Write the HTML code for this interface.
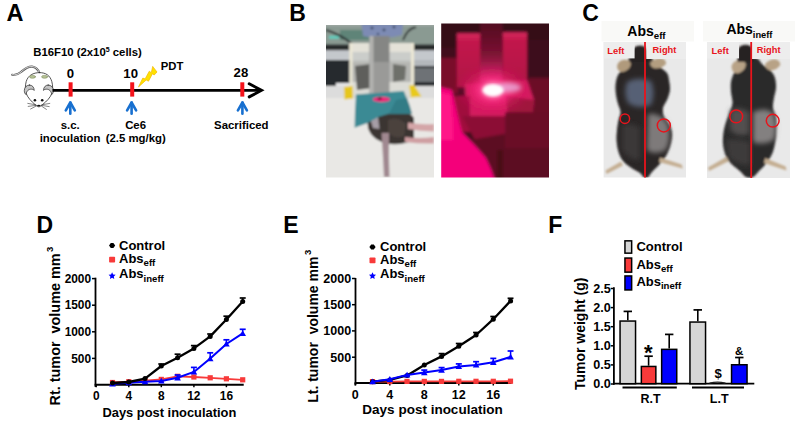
<!DOCTYPE html><html><head><meta charset="utf-8"><style>html,body{margin:0;padding:0;background:#fff;}svg{display:block;font-family:"Liberation Sans",sans-serif;font-weight:bold;}</style></head><body>
<svg width="798" height="422" viewBox="0 0 798 422">
<rect width="798" height="422" fill="#fff"/>
<text x="6.6" y="21.0" font-size="23.5" text-anchor="start" fill="#000" font-weight="bold" >A</text>
<text x="33.2" y="55.6" font-size="11.35">B16F10 (2x10<tspan font-size="7" dy="-4">5</tspan><tspan dy="4"> cells)</tspan></text>
<g stroke-linecap="round" stroke-linejoin="round">
      <path d="M39.6,73.3 C38,69 36,67 32,66.6 C27,66.3 24,69.5 21,72 C18.5,74 15.5,75.5 12.1,74.8" fill="none" stroke="#5a5a5a" stroke-width="2.1"/>
      <path d="M39.6,73.3 C38,69 36,67 32,66.6 C27,66.3 24,69.5 21,72 C18.5,74 15.5,75.5 12.1,74.8" fill="none" stroke="#f4f4f4" stroke-width="0.8"/>
      <path d="M39.6,72.6 C33,72.6 28,75.5 26.2,81.5 C25,86 25.3,90 26,93 C27.5,97.5 31.5,101.5 35,104.5 C37,106.3 38,106.8 38.8,106.8 C39.6,106.8 40.6,106.3 42.6,104.5 C46.5,101.5 50.5,97.5 52,93 C52.8,90 53,86 51.8,81.5 C50,75.5 46,72.6 39.6,72.6 Z" fill="#fff" stroke="#2a2a2a" stroke-width="0.8"/>
      <ellipse cx="32.5" cy="76.8" rx="3" ry="1.5" fill="#b4c094" stroke="#7c8a5a" stroke-width="0.5"/>
      <ellipse cx="44.6" cy="76.8" rx="3" ry="1.5" fill="#b4c094" stroke="#7c8a5a" stroke-width="0.5"/>
      <path d="M29.5,85 C26.5,85 24.3,87.5 24.3,90.6 C24.3,92.5 25,93.8 26,94.6 C26.5,91 28.5,89 31.5,89.2 C33,89.3 33.8,89.8 34.2,90.4 C34.2,87.5 32.5,85 29.5,85 Z" fill="#c4c4c4" stroke="#2a2a2a" stroke-width="0.7"/>
      <path d="M48.2,85 C51.2,85 53.4,87.5 53.4,90.6 C53.4,92.5 52.7,93.8 51.7,94.6 C51.2,91 49.2,89 46.2,89.2 C44.7,89.3 43.9,89.8 43.5,90.4 C43.5,87.5 45.2,85 48.2,85 Z" fill="#c4c4c4" stroke="#2a2a2a" stroke-width="0.7"/>
      <circle cx="34.9" cy="100.2" r="1.3" fill="#111"/>
      <circle cx="42.2" cy="100.2" r="1.3" fill="#111"/>
      <path d="M36.8,105.2 Q38.8,107.6 40.8,105.2 Q38.8,104.2 36.8,105.2 Z" fill="#111"/>
      <path d="M35.8,104.8 L27.8,103.4 M35.8,105.4 L28.2,106.4 M36.2,106 L30.6,109 M41.8,104.8 L49.8,103.4 M41.8,105.4 L49.2,106.6 M41.4,106 L46.4,109.4" stroke="#333" stroke-width="0.6" fill="none"/>
    </g>
<line x1="52.5" y1="90.35" x2="261" y2="90.35" stroke="#000" stroke-width="2.9"/>
<polyline points="249.2,83.8 261.5,90.35 249.2,96.9" fill="none" stroke="#000" stroke-width="2.9" stroke-linejoin="miter" stroke-linecap="round"/>
<rect x="68.6" y="82.3" width="4" height="14.3" fill="#f4121a"/>
<rect x="130.2" y="82.3" width="4" height="14.3" fill="#f4121a"/>
<rect x="240.3" y="82.3" width="4" height="14.3" fill="#f4121a"/>
<text x="70.5" y="78.2" font-size="13.2" text-anchor="middle" fill="#000" font-weight="bold" >0</text>
<text x="130.7" y="78.0" font-size="13.2" text-anchor="middle" fill="#000" font-weight="bold" >10</text>
<text x="240.9" y="77.1" font-size="13.2" text-anchor="middle" fill="#000" font-weight="bold" >28</text>
<g stroke="#1870d0" stroke-width="2.6" fill="none" stroke-linecap="round" stroke-linejoin="round"><line x1="70.3" y1="102.5" x2="70.3" y2="113.7"/><polyline points="65.8,110.3 70.3,102.5 74.8,110.3"/></g>
<g stroke="#1870d0" stroke-width="2.6" fill="none" stroke-linecap="round" stroke-linejoin="round"><line x1="131.6" y1="102.5" x2="131.6" y2="113.7"/><polyline points="127.1,110.3 131.6,102.5 136.1,110.3"/></g>
<g stroke="#1870d0" stroke-width="2.6" fill="none" stroke-linecap="round" stroke-linejoin="round"><line x1="242.4" y1="102.5" x2="242.4" y2="113.7"/><polyline points="237.9,110.3 242.4,102.5 246.9,110.3"/></g>
<text x="70.2" y="128.6" font-size="11.4" text-anchor="middle" fill="#000" font-weight="bold" >s.c.</text>
<text x="70.0" y="141.5" font-size="11.4" text-anchor="middle" fill="#000" font-weight="bold" >inoculation</text>
<text x="135.6" y="128.9" font-size="11.4" text-anchor="middle" fill="#000" font-weight="bold" >Ce6</text>
<text x="135.7" y="141.8" font-size="11.4" text-anchor="middle" fill="#000" font-weight="bold" >(2.5 mg/kg)</text>
<text x="160.7" y="69.8" font-size="11.3" text-anchor="start" fill="#000" font-weight="bold" >PDT</text>
<text x="241.3" y="129.2" font-size="11.4" text-anchor="middle" fill="#000" font-weight="bold" >Sacrificed</text>
<path d="M138.5,86.9 L142.8,78.1 L145.1,78.9 L149.3,71.2 L151.3,72.7 L152.7,66.4 L157,72 L154.2,75 L152.4,73.8 L148.5,81.2 L146.2,80 Z" fill="#ffe100" stroke="#f2b800" stroke-width="0.7" stroke-linejoin="round"/>
<text x="289.3" y="20.9" font-size="23" text-anchor="start" fill="#000" font-weight="bold" >B</text>
<filter id="blurB1" x="-5%" y="-5%" width="110%" height="110%"><feGaussianBlur stdDeviation="0.8"/></filter>
<filter id="blurB2" x="-10%" y="-10%" width="120%" height="120%"><feGaussianBlur stdDeviation="2.2"/></filter>
<filter id="blurB3" x="-10%" y="-10%" width="120%" height="120%"><feGaussianBlur stdDeviation="1.6"/></filter>
<clipPath id="clipB1"><rect x="326" y="25" width="108" height="152.5"/></clipPath>
      <g clip-path="url(#clipB1)"><g filter="url(#blurB1)">
        <rect x="320" y="20" width="120" height="165" fill="#e9e8e5"/>
        <rect x="320" y="20" width="120" height="26" fill="#8a9a92"/><rect x="320" y="20" width="120" height="6" fill="#a0aaa6"/><rect x="340" y="30" width="30" height="10" fill="#5e8478"/>
        <rect x="329" y="35.8" width="10" height="3" fill="#60ccbc"/>
        <path d="M326,30 Q340,34 352,44" stroke="#2c3032" stroke-width="2" fill="none"/>
        <path d="M403,40 Q408,28 416,27" stroke="#2c3032" stroke-width="1.8" fill="none"/>
        <rect x="320" y="44.5" width="120" height="6" fill="#25292c"/>
        <rect x="320" y="50.5" width="120" height="9.5" fill="#c4c8cc"/>
        <rect x="320" y="60" width="120" height="27" fill="#26292d"/><rect x="336" y="83" width="14" height="5" fill="#e6e6e8"/>
        <rect x="414" y="60" width="26" height="6" fill="#b4b8bc"/>
        <rect x="414" y="68" width="26" height="14" fill="#6e7276"/>
        <rect x="320" y="86" width="120" height="12" fill="#dcdcdc"/>
        <rect x="349.5" y="43" width="64.5" height="55" fill="#d6d6d0" opacity="0.82"/>
        <rect x="349.5" y="43" width="64.5" height="9" fill="#e4e2d8"/>
        <rect x="352" y="52" width="59" height="10" fill="#c8cac8" opacity="0.7"/><rect x="352" y="82" width="59" height="14" fill="#dcdcd6"/>
        <path d="M355,66 L371,64 L372,88 L357,90 Z" fill="#5e5f5c"/>
        <path d="M393,64 L406,66 L405,80 L393,82 Z" fill="#6e6f6b"/>
        <rect x="349.5" y="43" width="3" height="55" fill="#ece8d6"/>
        <rect x="411" y="43" width="3" height="55" fill="#ece8d6"/>
        <path d="M344,87 L352.5,86 L353,98.5 L344.5,99.5 Z" fill="#e6c412" opacity="0.95"/>
        <path d="M409,85.5 L414,85 L421.5,96.5 L411,97.5 Z" fill="#e8c810" opacity="0.95"/>
        <path d="M361.5,24 L403,24 L402,35 Q383,41 363,36 Z" fill="#7d8bb4"/>
        <circle cx="372" cy="28" r="1.3" fill="#2a3050"/><circle cx="384" cy="30" r="1.3" fill="#2a3050"/><circle cx="394" cy="27" r="1.3" fill="#2a3050"/><circle cx="378" cy="34" r="1.1" fill="#2a3050"/>
        <rect x="369.5" y="36" width="20" height="27" fill="#858684"/>
        <rect x="369.5" y="62" width="20" height="36" fill="#9a9a98"/>
        <rect x="369.5" y="36" width="4" height="62" fill="#b2b2b0"/>
        <path d="M367,114 Q376,110 392,111 Q410,110 414,118 L414,140 Q404,145 390,144 Q372,141 368,128 Z" fill="#3b3432"/>
        <path d="M388,120 Q398,116 406,124 L404,136 Q394,140 388,132 Z" fill="#4c423e"/>
        <path d="M370,118 L378,116.5 L379.5,129 L373,128 Z" fill="#a69ea6"/>
        <path d="M381.5,133 Q383,156 384,177 L389.5,177 Q388.5,156 389,133 Z" fill="#a08890"/>
        <path d="M408,122.5 Q420,125 434,124 L434,131.5 Q420,131 408,129 Z" fill="#d4a6a8"/>
        <path d="M405,137 Q420,139 434,137 L434,143.5 Q420,144 405,142 Z" fill="#cf9fa2"/>
        <path d="M356,94.6 L403.8,90.9 L409.7,105.6 L411.9,113.7 L389,113.7 L378.8,116.7 L367,123.3 L354.6,127.7 L355,111 Z" fill="#3a8a94"/>
        <path d="M396,100 L407,98 L411.9,113.7 L389,113.7 Z" fill="#337c86"/>
        <ellipse cx="381.5" cy="99.4" rx="8.6" ry="2.7" fill="#f0287a"/>
        <ellipse cx="379.8" cy="98.6" rx="2.3" ry="1.1" fill="#4a1020"/>
      </g></g>
<clipPath id="clipB2"><rect x="441.2" y="23.4" width="107.8" height="154"/></clipPath>
      <radialGradient id="glow" cx="493" cy="90" r="38" gradientUnits="userSpaceOnUse" gradientTransform="translate(0,27) scale(1,0.7)">
        <stop offset="0" stop-color="#ffffff"/><stop offset="0.15" stop-color="#ffc0e0"/><stop offset="0.35" stop-color="#ff3088" stop-opacity="0.85"/><stop offset="0.7" stop-color="#e8186a" stop-opacity="0.3"/><stop offset="1" stop-color="#d01860" stop-opacity="0"/>
      </radialGradient>
      <linearGradient id="rodg" x1="0" y1="0" x2="0" y2="1"><stop offset="0" stop-color="#4a0a1c"/><stop offset="0.55" stop-color="#7a1232"/><stop offset="1" stop-color="#e02a70"/></linearGradient>
      <linearGradient id="blkL" x1="0" y1="0" x2="0" y2="1"><stop offset="0" stop-color="#d82a5e"/><stop offset="0.15" stop-color="#c2184c"/><stop offset="1" stop-color="#b01444"/></linearGradient>
      <g clip-path="url(#clipB2)"><g filter="url(#blurB3)">
        <rect x="436" y="18" width="118" height="165" fill="#420a1c"/>
        <rect x="436" y="18" width="118" height="30" fill="#360816"/>
        <rect x="436" y="58" width="22" height="36" fill="#7a0c2c"/>
        <rect x="457" y="33.3" width="23.7" height="54" fill="url(#blkL)"/>
        <rect x="502.5" y="32.3" width="24.5" height="54" fill="url(#blkL)"/>
        <rect x="480.2" y="18" width="22.3" height="64" fill="url(#rodg)"/>
        <rect x="528" y="40" width="26" height="40" fill="#3e0a1a"/>
        <rect x="528" y="78" width="26" height="50" fill="#6c0c28"/>
        <path d="M465,84 L527,80 L534,100 L532,118 Q500,122 467,118 Z" fill="#d41c5e"/>
        <path d="M506,96 L534,100 L532,118 L508,120 Z" fill="#a0143e"/>
        <rect x="452" y="96" width="18" height="36" fill="#a00a3c"/><path d="M462,116 L530,116 L532,140 L502,150 L476,142 Z" fill="#8c0c34"/>
        <path d="M470,140 L549,126 L554,183 L470,183 Z" fill="#5c0a22"/><rect x="505" y="112" width="50" height="36" fill="#6a0c26"/>
        <path d="M497,150 L503,150 L503,183 L497,183 Z" fill="#4a0818"/>
        <path d="M436,86 L452,90 Q458,118 462,132 Q476,146 486,158 Q492,170 496,183 L436,183 Z" fill="#f4067a"/>
        <path d="M436,92 L450,95 Q453,120 453,140 L436,140 Z" fill="#ff1888"/>
      </g>
      <g filter="url(#blurB2)"><rect x="441" y="23" width="108" height="154" fill="url(#glow)"/>
        <ellipse cx="508" cy="87.5" rx="13" ry="4.5" fill="#eab0dc" opacity="0.8"/></g>
      <ellipse cx="493" cy="90.2" rx="10.5" ry="5.8" fill="#ffffff" filter="url(#blurB3)"/>
      </g>
<text x="582.2" y="20.8" font-size="23" text-anchor="start" fill="#000" font-weight="bold" >C</text>
<filter id="blurC" x="-10%" y="-10%" width="120%" height="120%"><feGaussianBlur stdDeviation="0.8"/></filter>
<filter id="blurC2" x="-30%" y="-30%" width="160%" height="160%"><feGaussianBlur stdDeviation="2.6"/></filter>
<rect x="601.5" y="21" width="92.5" height="20.5" fill="#f9f9f7"/>
<rect x="703" y="21" width="92" height="20.5" fill="#f9f9f7"/>
<text x="627.3" y="36" font-size="14">Abs<tspan font-size="9.7" dy="3">eff</tspan></text>
<text x="726.4" y="34.3" font-size="14">Abs<tspan font-size="9.3" dy="3.4">ineff</tspan></text>
<clipPath id="clipC1"><rect x="603.6" y="42" width="82.4" height="135.5"/></clipPath>
    <g clip-path="url(#clipC1)">
      <rect x="600" y="40" width="90" height="140" fill="#e9e9e9"/>
            <g filter="url(#blurC)">
                  <path d="M631,56 C627.5,57.0 629.2,60.0 628,62 C626.8,64.0 625.7,65.8 624,68 C622.3,70.2 619.4,72.2 618,75 C616.6,77.8 615.8,81.7 615.5,85 C615.2,88.3 615.6,91.8 616,95 C616.4,98.2 617.2,101.2 618,104 C618.8,106.8 620.4,109.3 620.5,112 C620.6,114.7 619.1,117.0 618.5,120 C617.9,123.0 617.3,126.7 617,130 C616.7,133.3 616.3,136.7 616.5,140 C616.7,143.3 617.2,147.0 618,150 C618.8,153.0 619.7,155.7 621,158 C622.3,160.3 624.0,162.2 626,164 C628.0,165.8 630.7,167.5 633,169 C635.3,170.5 638.2,171.6 640,173 C641.8,174.4 642.7,176.8 644,177.5 C645.3,178.2 646.7,178.4 648,177.5 C649.3,176.6 650.3,173.9 652,172 C653.7,170.1 656.0,168.2 658,166 C660.0,163.8 662.3,161.3 664,159 C665.7,156.7 666.8,154.7 668,152 C669.2,149.3 670.3,146.2 671,143 C671.7,139.8 672.3,136.2 672,133 C671.7,129.8 670.3,126.7 669,124 C667.7,121.3 665.0,119.7 664,117 C663.0,114.3 662.5,110.8 663,108 C663.5,105.2 665.8,103.0 667,100 C668.2,97.0 669.7,93.3 670,90 C670.3,86.7 669.5,82.8 669,80 C668.5,77.2 668.5,75.2 667,73 C665.5,70.8 662.2,69.0 660,67 C657.8,65.0 655.8,62.8 654,61 C652.2,59.2 652.8,56.8 649,56 C645.2,55.2 634.5,55.0 631,56 Z" fill="#2a2727"/>
      <path d="M617,66.5 Q617.5,61 624,59.8 Q629.5,59.5 631,64 Q630,70 623,72 Q617.5,72 617,66.5 Z" fill="#b09a7c"/>
      <path d="M650,63 Q654,58 661,58.3 Q666.5,59.5 666,64 Q662,68.5 655,68.5 Q650.5,67.5 650,63 Z" fill="#b39e80"/>
      <path d="M632.5,62 L632.5,51 Q633.5,45.6 640,45.4 Q646.5,45.6 647.5,51 L647.5,62 Z" fill="#262323"/>
      <path d="M621,161.5 L605.5,170.5 L606.5,174 L623,165.5 Z" fill="#c4ae92"/>
      <path d="M660,157.5 L681.6,164.5 L683,168.5 L659,162 Z" fill="#c4ae92"/>
      </g>
      <path d="M627,82 Q638,76 651,81 Q656,93 651,105 Q638,110 628,103 Q623,93 627,82 Z" fill="#566174" filter="url(#blurC2)"/>
      <path d="M648,114 Q660,112 668,124 Q672,138 666,150 Q654,156 647,150 Z" fill="#7e7a7a" filter="url(#blurC2)"/>
      <path d="M622,125 Q632,122 640,128 L640,160 Q628,160 622,150 Z" fill="#3a3838" filter="url(#blurC2)"/>
      <rect x="603.6" y="42" width="31" height="16.4" fill="#ededed"/>
      <rect x="646.3" y="42" width="39.7" height="17" fill="#ededed"/>
      <circle cx="624.9" cy="118.7" r="4.7" fill="none" stroke="#e8141c" stroke-width="1.5"/>
      <circle cx="663.8" cy="125.4" r="6.5" fill="none" stroke="#e8141c" stroke-width="1.5"/>
      <line x1="645" y1="42" x2="645" y2="178" stroke="#e8141c" stroke-width="1.8"/>
    </g>
<text x="607.2" y="53.9" font-size="9.4" text-anchor="start" fill="#e8141c" font-weight="bold" >Left</text>
<text x="652.6" y="53.4" font-size="9.3" text-anchor="start" fill="#e8141c" font-weight="bold" >Right</text>
<clipPath id="clipC2"><rect x="707" y="42" width="83" height="136"/></clipPath>
    <g clip-path="url(#clipC2)">
      <rect x="700" y="40" width="95" height="140" fill="#e9e9e9"/>
      <g filter="url(#blurC)">
                  <path d="M740,58 C737.0,59.3 739.0,63.5 738,66 C737.0,68.5 735.2,70.3 734,73 C732.8,75.7 731.5,78.8 731,82 C730.5,85.2 730.8,88.5 731,92 C731.2,95.5 732.7,99.7 732.5,103 C732.3,106.3 731.1,108.8 730,112 C728.9,115.2 727.1,118.7 726,122 C724.9,125.3 724.0,128.5 723.5,132 C723.0,135.5 722.8,139.5 723,143 C723.2,146.5 724.0,150.0 725,153 C726.0,156.0 727.3,158.7 729,161 C730.7,163.3 733.0,165.2 735,167 C737.0,168.8 739.2,170.3 741,172 C742.8,173.7 744.0,176.2 746,177 C748.0,177.8 750.8,178.0 753,177 C755.2,176.0 757.0,173.0 759,171 C761.0,169.0 763.2,167.2 765,165 C766.8,162.8 768.6,160.5 770,158 C771.4,155.5 772.6,153.0 773.5,150 C774.4,147.0 775.1,143.3 775.5,140 C775.9,136.7 775.9,133.7 776,130 C776.1,126.3 776.5,121.7 776,118 C775.5,114.3 773.3,111.3 773,108 C772.7,104.7 773.5,101.3 774,98 C774.5,94.7 775.8,91.3 776,88 C776.2,84.7 775.8,80.8 775,78 C774.2,75.2 773.0,73.2 771,71 C769.0,68.8 765.5,67.2 763,65 C760.5,62.8 759.8,59.2 756,58 C752.2,56.8 743.0,56.7 740,58 Z" fill="#2b2929"/>
      <path d="M731.5,67 Q732,61.5 738.5,60 Q744.5,59.5 746,64.5 Q745,71 738,73.5 Q732,73.5 731.5,67 Z" fill="#b8a286"/>
      <path d="M765,64 Q769,59.3 775,59.3 Q780.5,60.5 780.3,65 Q777,70 770.5,70.5 Q765.5,69.5 765,64 Z" fill="#b8a286"/>
      <path d="M737.5,62 L737.5,51 Q738.5,45 745.5,44.8 Q752.5,45 753.5,51 L753.5,62 Z" fill="#262323"/>
      <path d="M727,156.5 L708,167.5 L709,171 L729,161 Z" fill="#c4ae92"/>
      <path d="M765,158 L785.7,166.5 L786.5,170.5 L764,163 Z" fill="#c4ae92"/>
      </g>
      <path d="M753,112 Q766,106 774,114 Q778,128 774,140 Q762,146 753,142 Z" fill="#838080" filter="url(#blurC2)"/>
      <path d="M730,110 Q740,106 749,112 L749,134 Q738,138 730,130 Z" fill="#52504f" filter="url(#blurC2)"/>
      <path d="M726,140 Q738,138 750,142 L750,165 Q736,166 728,156 Z" fill="#3c3a3a" filter="url(#blurC2)"/>
      <rect x="707" y="42" width="32" height="16.4" fill="#ededed"/>
      <rect x="751.5" y="42" width="38.5" height="17" fill="#ededed"/>
      <circle cx="736.2" cy="116.4" r="6.4" fill="none" stroke="#e8141c" stroke-width="1.5"/>
      <circle cx="772.7" cy="120.7" r="6.4" fill="none" stroke="#e8141c" stroke-width="1.5"/>
      <line x1="751.2" y1="42" x2="751.2" y2="178" stroke="#e8141c" stroke-width="1.8"/>
    </g>
<text x="711.6" y="53.9" font-size="9.4" text-anchor="start" fill="#e8141c" font-weight="bold" >Left</text>
<text x="756.8" y="53.4" font-size="9.3" text-anchor="start" fill="#e8141c" font-weight="bold" >Right</text>
<text x="36.6" y="233.4" font-size="23" text-anchor="start" fill="#000" font-weight="bold" >D</text>
<line x1="95.5" y1="277.7" x2="95.5" y2="387.0" stroke="#000" stroke-width="1.8"/>
<line x1="94.6" y1="384.8" x2="243.72000000000003" y2="384.8" stroke="#000" stroke-width="2"/>
<line x1="92.0" y1="358.4" x2="95.5" y2="358.4" stroke="#000" stroke-width="1.5"/>
<text x="91.1" y="362.6602" font-size="11.9" text-anchor="end" fill="#000" font-weight="bold" >500</text>
<line x1="92.0" y1="331.8" x2="95.5" y2="331.8" stroke="#000" stroke-width="1.5"/>
<text x="91.1" y="336.0602" font-size="11.9" text-anchor="end" fill="#000" font-weight="bold" >1000</text>
<line x1="92.0" y1="305.2" x2="95.5" y2="305.2" stroke="#000" stroke-width="1.5"/>
<text x="91.1" y="309.4602" font-size="11.9" text-anchor="end" fill="#000" font-weight="bold" >1500</text>
<line x1="92.0" y1="278.6" x2="95.5" y2="278.6" stroke="#000" stroke-width="1.5"/>
<text x="91.1" y="282.8602" font-size="11.9" text-anchor="end" fill="#000" font-weight="bold" >2000</text>
<line x1="96.2" y1="384.8" x2="96.2" y2="387.2" stroke="#000" stroke-width="1.5"/>
<text x="96.2" y="399.7" font-size="11.9" text-anchor="middle" fill="#000" font-weight="bold" >0</text>
<line x1="128.8" y1="384.8" x2="128.8" y2="387.2" stroke="#000" stroke-width="1.5"/>
<text x="128.76" y="399.7" font-size="11.9" text-anchor="middle" fill="#000" font-weight="bold" >4</text>
<line x1="161.3" y1="384.8" x2="161.3" y2="387.2" stroke="#000" stroke-width="1.5"/>
<text x="161.32" y="399.7" font-size="11.9" text-anchor="middle" fill="#000" font-weight="bold" >8</text>
<line x1="193.9" y1="384.8" x2="193.9" y2="387.2" stroke="#000" stroke-width="1.5"/>
<text x="193.88" y="399.7" font-size="11.9" text-anchor="middle" fill="#000" font-weight="bold" >12</text>
<line x1="226.4" y1="384.8" x2="226.4" y2="387.2" stroke="#000" stroke-width="1.5"/>
<text x="226.44" y="399.7" font-size="11.9" text-anchor="middle" fill="#000" font-weight="bold" >16</text>
<text x="169.4" y="416.6" font-size="12.9" text-anchor="middle" fill="#000" font-weight="bold" >Days post inoculation</text>
<text transform="translate(60.3,405.4) rotate(-90)" font-size="14.4">Rt. tumor&#160; volume mm<tspan font-size="9.6" dy="-7" dx="1.5">3</tspan></text>
<polyline points="112.5,382.5 128.8,381.7 145.0,380.6 161.3,379.4 177.6,376.3 193.9,377.0 210.2,377.8 226.4,378.8 242.7,379.8" fill="none" stroke="#f83a3a" stroke-width="1.8" stroke-linejoin="round"/>
<rect x="109.9" y="379.9" width="5.2" height="5.2" fill="#f83a3a"/>
<rect x="126.2" y="379.1" width="5.2" height="5.2" fill="#f83a3a"/>
<rect x="142.4" y="378.0" width="5.2" height="5.2" fill="#f83a3a"/>
<rect x="158.7" y="376.8" width="5.2" height="5.2" fill="#f83a3a"/>
<rect x="175.0" y="373.7" width="5.2" height="5.2" fill="#f83a3a"/>
<rect x="191.3" y="374.4" width="5.2" height="5.2" fill="#f83a3a"/>
<rect x="207.6" y="375.2" width="5.2" height="5.2" fill="#f83a3a"/>
<rect x="223.8" y="376.2" width="5.2" height="5.2" fill="#f83a3a"/>
<rect x="240.1" y="377.2" width="5.2" height="5.2" fill="#f83a3a"/>
<polyline points="112.5,383.8 128.8,382.7 145.0,381.7 161.3,381.0 177.6,377.8 193.9,371.9 210.2,358.6 226.4,344.0 242.7,333.4" fill="none" stroke="#0000ff" stroke-width="2.0" stroke-linejoin="round"/>
<polygon points="112.5,380.6 115.8,386.4 109.2,386.4" fill="#0000ff"/>
<polygon points="128.8,379.5 132.1,385.3 125.5,385.3" fill="#0000ff"/>
<polygon points="145.0,378.5 148.3,384.3 141.7,384.3" fill="#0000ff"/>
<polygon points="161.3,377.8 164.6,383.6 158.0,383.6" fill="#0000ff"/>
<polygon points="177.6,374.6 180.9,380.4 174.3,380.4" fill="#0000ff"/>
<line x1="177.6" y1="375.0" x2="177.6" y2="377.8" stroke="#0000ff" stroke-width="1.5"/>
<line x1="174.6" y1="375.0" x2="180.6" y2="375.0" stroke="#0000ff" stroke-width="1.7"/>
<polygon points="193.9,368.7 197.2,374.5 190.6,374.5" fill="#0000ff"/>
<line x1="193.9" y1="367.4" x2="193.9" y2="371.9" stroke="#0000ff" stroke-width="1.5"/>
<line x1="190.9" y1="367.4" x2="196.9" y2="367.4" stroke="#0000ff" stroke-width="1.7"/>
<polygon points="210.2,355.4 213.5,361.2 206.9,361.2" fill="#0000ff"/>
<line x1="210.2" y1="352.8" x2="210.2" y2="358.6" stroke="#0000ff" stroke-width="1.5"/>
<line x1="207.2" y1="352.8" x2="213.2" y2="352.8" stroke="#0000ff" stroke-width="1.7"/>
<polygon points="226.4,340.8 229.7,346.6 223.1,346.6" fill="#0000ff"/>
<line x1="226.4" y1="339.8" x2="226.4" y2="344.0" stroke="#0000ff" stroke-width="1.5"/>
<line x1="223.4" y1="339.8" x2="229.4" y2="339.8" stroke="#0000ff" stroke-width="1.7"/>
<polygon points="242.7,330.2 246.0,336.0 239.4,336.0" fill="#0000ff"/>
<line x1="242.7" y1="329.3" x2="242.7" y2="333.4" stroke="#0000ff" stroke-width="1.5"/>
<line x1="239.7" y1="329.3" x2="245.7" y2="329.3" stroke="#0000ff" stroke-width="1.7"/>
<polyline points="112.5,383.0 128.8,382.0 145.0,378.6 161.3,366.0 177.6,357.7 193.9,348.4 210.2,336.4 226.4,319.5 242.7,301.6" fill="none" stroke="#000000" stroke-width="2.3" stroke-linejoin="round"/>
<circle cx="112.5" cy="383.0" r="2.5" fill="#000000"/>
<circle cx="128.8" cy="382.0" r="2.5" fill="#000000"/>
<circle cx="145.0" cy="378.6" r="2.5" fill="#000000"/>
<circle cx="161.3" cy="366.0" r="2.5" fill="#000000"/>
<line x1="161.3" y1="364.0" x2="161.3" y2="366.0" stroke="#000000" stroke-width="1.5"/>
<line x1="158.3" y1="364.0" x2="164.3" y2="364.0" stroke="#000000" stroke-width="1.7"/>
<circle cx="177.6" cy="357.7" r="2.5" fill="#000000"/>
<line x1="177.6" y1="354.2" x2="177.6" y2="357.7" stroke="#000000" stroke-width="1.5"/>
<line x1="174.6" y1="354.2" x2="180.6" y2="354.2" stroke="#000000" stroke-width="1.7"/>
<circle cx="193.9" cy="348.4" r="2.5" fill="#000000"/>
<line x1="193.9" y1="345.6" x2="193.9" y2="348.4" stroke="#000000" stroke-width="1.5"/>
<line x1="190.9" y1="345.6" x2="196.9" y2="345.6" stroke="#000000" stroke-width="1.7"/>
<circle cx="210.2" cy="336.4" r="2.5" fill="#000000"/>
<line x1="210.2" y1="334.0" x2="210.2" y2="336.4" stroke="#000000" stroke-width="1.5"/>
<line x1="207.2" y1="334.0" x2="213.2" y2="334.0" stroke="#000000" stroke-width="1.7"/>
<circle cx="226.4" cy="319.5" r="2.5" fill="#000000"/>
<line x1="226.4" y1="316.2" x2="226.4" y2="319.5" stroke="#000000" stroke-width="1.5"/>
<line x1="223.4" y1="316.2" x2="229.4" y2="316.2" stroke="#000000" stroke-width="1.7"/>
<circle cx="242.7" cy="301.6" r="2.5" fill="#000000"/>
<line x1="242.7" y1="298.0" x2="242.7" y2="301.6" stroke="#000000" stroke-width="1.5"/>
<line x1="239.7" y1="298.0" x2="245.7" y2="298.0" stroke="#000000" stroke-width="1.7"/>
<polygon points="109.0,245.5 110.8,243.0 113.4,243.0 115.2,245.5 113.4,248.0 110.8,248.0" fill="#000"/>
<text x="119.0" y="250.0" font-size="13">Control</text>
<rect x="109.1" y="256.8" width="6" height="5.8" rx="0.8" fill="#f83a3a"/>
<text x="119.0" y="262.6" font-size="13">Abs<tspan font-size="9.6" dy="3.5">eff</tspan></text>
<polygon points="112.10,272.30 113.16,274.54 115.62,274.86 113.81,276.56 114.27,278.99 112.10,277.80 109.93,278.99 110.39,276.56 108.58,274.86 111.04,274.54" fill="#0000ff"/>
<text x="119.0" y="278.0" font-size="13">Abs<tspan font-size="9.6" dy="3.5">ineff</tspan></text>
<text x="283.2" y="233.4" font-size="23" text-anchor="start" fill="#000" font-weight="bold" >E</text>
<line x1="355.5" y1="278.0" x2="355.5" y2="385.3" stroke="#000" stroke-width="1.8"/>
<line x1="354.6" y1="383.1" x2="511.55" y2="383.1" stroke="#000" stroke-width="2"/>
<line x1="352.0" y1="357.2" x2="355.5" y2="357.2" stroke="#000" stroke-width="1.5"/>
<text x="351.1" y="361.65" font-size="12.5" text-anchor="end" fill="#000" font-weight="bold" >500</text>
<line x1="352.0" y1="330.9" x2="355.5" y2="330.9" stroke="#000" stroke-width="1.5"/>
<text x="351.1" y="335.425" font-size="12.5" text-anchor="end" fill="#000" font-weight="bold" >1000</text>
<line x1="352.0" y1="304.7" x2="355.5" y2="304.7" stroke="#000" stroke-width="1.5"/>
<text x="351.1" y="309.2" font-size="12.5" text-anchor="end" fill="#000" font-weight="bold" >1500</text>
<line x1="352.0" y1="278.5" x2="355.5" y2="278.5" stroke="#000" stroke-width="1.5"/>
<text x="351.1" y="282.975" font-size="12.5" text-anchor="end" fill="#000" font-weight="bold" >2000</text>
<line x1="355.3" y1="383.1" x2="355.3" y2="385.5" stroke="#000" stroke-width="1.5"/>
<text x="355.3" y="398.8" font-size="12.5" text-anchor="middle" fill="#000" font-weight="bold" >0</text>
<line x1="389.8" y1="383.1" x2="389.8" y2="385.5" stroke="#000" stroke-width="1.5"/>
<text x="389.8" y="398.8" font-size="12.5" text-anchor="middle" fill="#000" font-weight="bold" >4</text>
<line x1="424.3" y1="383.1" x2="424.3" y2="385.5" stroke="#000" stroke-width="1.5"/>
<text x="424.3" y="398.8" font-size="12.5" text-anchor="middle" fill="#000" font-weight="bold" >8</text>
<line x1="458.8" y1="383.1" x2="458.8" y2="385.5" stroke="#000" stroke-width="1.5"/>
<text x="458.8" y="398.8" font-size="12.5" text-anchor="middle" fill="#000" font-weight="bold" >12</text>
<line x1="493.3" y1="383.1" x2="493.3" y2="385.5" stroke="#000" stroke-width="1.5"/>
<text x="493.3" y="398.8" font-size="12.5" text-anchor="middle" fill="#000" font-weight="bold" >16</text>
<text x="432.5" y="414.0" font-size="13.5" text-anchor="middle" fill="#000" font-weight="bold" >Days post inoculation</text>
<text transform="translate(318.3,402.8) rotate(-90)" font-size="14.0">Lt. tumor&#160; volume mm<tspan font-size="9.6" dy="-7" dx="1.5">3</tspan></text>
<polyline points="372.6,381.6 389.8,381.6 407.1,381.4 424.3,381.4 441.6,381.4 458.8,381.3 476.1,381.3 493.3,381.3 510.6,381.2" fill="none" stroke="#f83a3a" stroke-width="1.8" stroke-linejoin="round"/>
<rect x="369.9" y="379.0" width="5.2" height="5.2" fill="#f83a3a"/>
<rect x="387.2" y="379.0" width="5.2" height="5.2" fill="#f83a3a"/>
<rect x="404.4" y="378.8" width="5.2" height="5.2" fill="#f83a3a"/>
<rect x="421.7" y="378.8" width="5.2" height="5.2" fill="#f83a3a"/>
<rect x="438.9" y="378.8" width="5.2" height="5.2" fill="#f83a3a"/>
<rect x="456.2" y="378.7" width="5.2" height="5.2" fill="#f83a3a"/>
<rect x="473.4" y="378.7" width="5.2" height="5.2" fill="#f83a3a"/>
<rect x="490.7" y="378.7" width="5.2" height="5.2" fill="#f83a3a"/>
<rect x="507.9" y="378.6" width="5.2" height="5.2" fill="#f83a3a"/>
<polyline points="372.6,381.7 389.8,379.9 407.1,375.4 424.3,365.0 441.6,356.4 458.8,346.2 476.1,335.0 493.3,319.2 510.6,300.9" fill="none" stroke="#000000" stroke-width="2.3" stroke-linejoin="round"/>
<circle cx="372.6" cy="381.7" r="2.5" fill="#000000"/>
<circle cx="389.8" cy="379.9" r="2.5" fill="#000000"/>
<circle cx="407.1" cy="375.4" r="2.5" fill="#000000"/>
<circle cx="424.3" cy="365.0" r="2.5" fill="#000000"/>
<circle cx="441.6" cy="356.4" r="2.5" fill="#000000"/>
<line x1="441.6" y1="353.6" x2="441.6" y2="356.4" stroke="#000000" stroke-width="1.5"/>
<line x1="438.6" y1="353.6" x2="444.6" y2="353.6" stroke="#000000" stroke-width="1.7"/>
<circle cx="458.8" cy="346.2" r="2.5" fill="#000000"/>
<line x1="458.8" y1="343.5" x2="458.8" y2="346.2" stroke="#000000" stroke-width="1.5"/>
<line x1="455.8" y1="343.5" x2="461.8" y2="343.5" stroke="#000000" stroke-width="1.7"/>
<circle cx="476.1" cy="335.0" r="2.5" fill="#000000"/>
<line x1="476.1" y1="332.5" x2="476.1" y2="335.0" stroke="#000000" stroke-width="1.5"/>
<line x1="473.1" y1="332.5" x2="479.1" y2="332.5" stroke="#000000" stroke-width="1.7"/>
<circle cx="493.3" cy="319.2" r="2.5" fill="#000000"/>
<line x1="493.3" y1="316.5" x2="493.3" y2="319.2" stroke="#000000" stroke-width="1.5"/>
<line x1="490.3" y1="316.5" x2="496.3" y2="316.5" stroke="#000000" stroke-width="1.7"/>
<circle cx="510.6" cy="300.9" r="2.5" fill="#000000"/>
<line x1="510.6" y1="298.3" x2="510.6" y2="300.9" stroke="#000000" stroke-width="1.5"/>
<line x1="507.6" y1="298.3" x2="513.5" y2="298.3" stroke="#000000" stroke-width="1.7"/>
<polyline points="372.6,381.7 389.8,379.3 407.1,374.9 424.3,372.6 441.6,370.1 458.8,366.4 476.1,365.0 493.3,362.3 510.6,356.9" fill="none" stroke="#0000ff" stroke-width="2.0" stroke-linejoin="round"/>
<polygon points="372.6,378.5 375.9,384.3 369.2,384.3" fill="#0000ff"/>
<polygon points="389.8,376.1 393.1,381.9 386.5,381.9" fill="#0000ff"/>
<polygon points="407.1,371.7 410.4,377.5 403.8,377.5" fill="#0000ff"/>
<polygon points="424.3,369.4 427.6,375.2 421.0,375.2" fill="#0000ff"/>
<line x1="424.3" y1="370.1" x2="424.3" y2="372.6" stroke="#0000ff" stroke-width="1.5"/>
<line x1="421.3" y1="370.1" x2="427.3" y2="370.1" stroke="#0000ff" stroke-width="1.7"/>
<polygon points="441.6,366.9 444.9,372.7 438.2,372.7" fill="#0000ff"/>
<line x1="441.6" y1="367.6" x2="441.6" y2="370.1" stroke="#0000ff" stroke-width="1.5"/>
<line x1="438.6" y1="367.6" x2="444.6" y2="367.6" stroke="#0000ff" stroke-width="1.7"/>
<polygon points="458.8,363.2 462.1,369.0 455.5,369.0" fill="#0000ff"/>
<line x1="458.8" y1="363.9" x2="458.8" y2="366.4" stroke="#0000ff" stroke-width="1.5"/>
<line x1="455.8" y1="363.9" x2="461.8" y2="363.9" stroke="#0000ff" stroke-width="1.7"/>
<polygon points="476.1,361.8 479.4,367.6 472.8,367.6" fill="#0000ff"/>
<line x1="476.1" y1="361.7" x2="476.1" y2="365.0" stroke="#0000ff" stroke-width="1.5"/>
<line x1="473.1" y1="361.7" x2="479.1" y2="361.7" stroke="#0000ff" stroke-width="1.7"/>
<polygon points="493.3,359.1 496.6,364.9 490.0,364.9" fill="#0000ff"/>
<line x1="493.3" y1="358.4" x2="493.3" y2="362.3" stroke="#0000ff" stroke-width="1.5"/>
<line x1="490.3" y1="358.4" x2="496.3" y2="358.4" stroke="#0000ff" stroke-width="1.7"/>
<polygon points="510.6,353.7 513.9,359.5 507.2,359.5" fill="#0000ff"/>
<line x1="510.6" y1="351.0" x2="510.6" y2="356.9" stroke="#0000ff" stroke-width="1.5"/>
<line x1="507.6" y1="351.0" x2="513.5" y2="351.0" stroke="#0000ff" stroke-width="1.7"/>
<polygon points="369.4,246.9 371.2,244.4 373.8,244.4 375.6,246.9 373.8,249.4 371.2,249.4" fill="#000"/>
<text x="380.0" y="251.2" font-size="13">Control</text>
<rect x="369.5" y="257.4" width="6" height="5.8" rx="0.8" fill="#f83a3a"/>
<text x="380.0" y="263.8" font-size="13">Abs<tspan font-size="9.6" dy="3.5">eff</tspan></text>
<polygon points="372.50,272.30 373.56,274.54 376.02,274.86 374.21,276.56 374.67,278.99 372.50,277.80 370.33,278.99 370.79,276.56 368.98,274.86 371.44,274.54" fill="#0000ff"/>
<text x="380.0" y="278.0" font-size="13">Abs<tspan font-size="9.6" dy="3.5">ineff</tspan></text>
<text x="548.3" y="233.4" font-size="23" text-anchor="start" fill="#000" font-weight="bold" >F</text>
<line x1="613.9" y1="287.3" x2="613.9" y2="384.7" stroke="#000" stroke-width="1.8"/>
<line x1="613.0" y1="383.7" x2="754.3" y2="383.7" stroke="#000" stroke-width="1.7"/>
<line x1="610.6999999999999" y1="384.0" x2="613.9" y2="384.0" stroke="#000" stroke-width="1.5"/>
<text x="610.6999999999999" y="388.3" font-size="12.6" text-anchor="end" fill="#000" font-weight="bold" >0.0</text>
<line x1="610.6999999999999" y1="364.9" x2="613.9" y2="364.9" stroke="#000" stroke-width="1.5"/>
<text x="610.6999999999999" y="369.2" font-size="12.6" text-anchor="end" fill="#000" font-weight="bold" >0.5</text>
<line x1="610.6999999999999" y1="345.8" x2="613.9" y2="345.8" stroke="#000" stroke-width="1.5"/>
<text x="610.6999999999999" y="350.1" font-size="12.6" text-anchor="end" fill="#000" font-weight="bold" >1.0</text>
<line x1="610.6999999999999" y1="326.7" x2="613.9" y2="326.7" stroke="#000" stroke-width="1.5"/>
<text x="610.6999999999999" y="331.0" font-size="12.6" text-anchor="end" fill="#000" font-weight="bold" >1.5</text>
<line x1="610.6999999999999" y1="307.6" x2="613.9" y2="307.6" stroke="#000" stroke-width="1.5"/>
<text x="610.6999999999999" y="311.90000000000003" font-size="12.6" text-anchor="end" fill="#000" font-weight="bold" >2.0</text>
<line x1="610.6999999999999" y1="288.5" x2="613.9" y2="288.5" stroke="#000" stroke-width="1.5"/>
<text x="610.6999999999999" y="292.8" font-size="12.6" text-anchor="end" fill="#000" font-weight="bold" >2.5</text>
<text transform="translate(585.2,390.1) rotate(-90)" font-size="14">Tumor weight (g)</text>
<line x1="627.8" y1="311.1" x2="627.8" y2="320.3" stroke="#000" stroke-width="1.6"/>
<line x1="623.6" y1="311.4" x2="632.0" y2="311.4" stroke="#000" stroke-width="1.7"/>
<rect x="620.05" y="321.05" width="15.50" height="62.65" fill="#d6d6d6" stroke="#000" stroke-width="1.5"/>
<line x1="648.6" y1="355.9" x2="648.6" y2="365.7" stroke="#000" stroke-width="1.6"/>
<line x1="644.4" y1="356.2" x2="652.8" y2="356.2" stroke="#000" stroke-width="1.7"/>
<rect x="641.35" y="366.45" width="14.50" height="17.25" fill="#f83a3a" stroke="#000" stroke-width="1.5"/>
<line x1="669.2" y1="334.1" x2="669.2" y2="348.6" stroke="#000" stroke-width="1.6"/>
<line x1="665.0" y1="334.4" x2="673.4" y2="334.4" stroke="#000" stroke-width="1.7"/>
<rect x="661.65" y="349.35" width="15.10" height="34.35" fill="#0000ff" stroke="#000" stroke-width="1.5"/>
<line x1="697.8" y1="309.6" x2="697.8" y2="321.3" stroke="#000" stroke-width="1.6"/>
<line x1="693.5" y1="309.9" x2="702.0" y2="309.9" stroke="#000" stroke-width="1.7"/>
<rect x="689.95" y="322.05" width="15.60" height="61.65" fill="#d6d6d6" stroke="#000" stroke-width="1.5"/>
<line x1="739.3" y1="357.2" x2="739.3" y2="364.0" stroke="#000" stroke-width="1.6"/>
<line x1="735.1" y1="357.5" x2="743.5" y2="357.5" stroke="#000" stroke-width="1.7"/>
<rect x="731.55" y="364.75" width="15.50" height="18.95" fill="#0000ff" stroke="#000" stroke-width="1.5"/>
<path d="M709.5,383.2 Q717.5,381 725.5,383.2" fill="none" stroke="#222" stroke-width="1.2"/>
<line x1="622.5" y1="387.5" x2="676.8" y2="387.5" stroke="#000" stroke-width="2.1"/>
<line x1="692" y1="387.5" x2="744" y2="387.5" stroke="#000" stroke-width="2.1"/>
<text x="650.5" y="402.7" font-size="12.5" text-anchor="middle" fill="#000" font-weight="bold" >R.T</text>
<text x="719.2" y="402.5" font-size="12.5" text-anchor="middle" fill="#000" font-weight="bold" >L.T</text>
<text x="648.4" y="359.7" font-size="22" text-anchor="middle" fill="#000" font-weight="bold" >*</text>
<text x="718.1" y="378.4" font-size="13.2" text-anchor="middle" fill="#000" font-weight="bold" >$</text>
<text x="739.1" y="354.5" font-size="11.5" text-anchor="middle" fill="#000" font-weight="bold" >&amp;</text>
<rect x="624.95" y="240.85" width="6.7" height="12.30" fill="#d6d6d6" stroke="#000" stroke-width="1.5"/>
<text x="636.4" y="250.9" font-size="13">Control</text>
<rect x="624.95" y="258.05" width="6.7" height="14.10" fill="#f83a3a" stroke="#000" stroke-width="1.5"/>
<text x="636.4" y="269.0" font-size="13">Abs<tspan font-size="9.6" dy="3">eff</tspan></text>
<rect x="624.95" y="275.95" width="6.7" height="14.00" fill="#0000ff" stroke="#000" stroke-width="1.5"/>
<text x="636.4" y="286.2" font-size="13">Abs<tspan font-size="9.6" dy="3">ineff</tspan></text>
</svg></body></html>
